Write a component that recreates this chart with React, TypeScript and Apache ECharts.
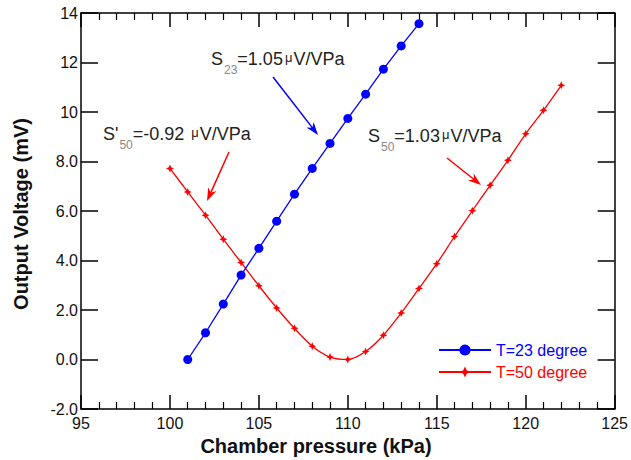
import React, { useEffect, useRef } from "react";
import * as echarts from "echarts";

const pressure23 = [101, 102, 103, 104, 105, 106, 107, 108, 109, 110, 111, 112, 113, 114];
const voltage23 = [0.0, 1.08, 2.24, 3.41, 4.49, 5.59, 6.68, 7.72, 8.73, 9.74, 10.72, 11.73, 12.67, 13.57];

const pressure50 = [100, 101, 102, 103, 104, 105, 106, 107, 108, 109, 110, 111, 112, 113, 114, 115, 116, 117, 118, 119, 120, 121, 122];
const voltage50 = [7.72, 6.77, 5.83, 4.86, 3.92, 2.98, 2.08, 1.26, 0.54, 0.1, 0.0, 0.32, 0.98, 1.88, 2.87, 3.87, 4.97, 6.01, 7.04, 8.05, 9.12, 10.07, 11.08];

const seriesNames = ["T=23 degree", "T=50 degree"];
const xTitle = "Chamber pressure (kPa)";
const yTitle = "Output Voltage (mV)";

const annotations = [
  { s: "S", sub: "23", rest: "=1.05", x: 211, y: 50 },
  { s: "S'", sub: "50", rest: "=-0.92 ", x: 103, y: 125 },
  { s: "S", sub: "50", rest: "=1.03", x: 368, y: 127 },
];

const arrows = [
  { x1: 273, y1: 77, x2: 318, y2: 135, color: "#0000ff" },
  { x1: 229, y1: 152, x2: 207, y2: 201, color: "#ff0000" },
  { x1: 447, y1: 158, x2: 481, y2: 185, color: "#ff0000" },
];

const STAR = "path://M0,-10 L3,-3 L10,0 L3,3 L0,10 L-3,3 L-10,0 L-3,-3 Z";

function arrowGraphics() {
  const out: any[] = [];
  for (const a of arrows) {
    const dx = a.x2 - a.x1;
    const dy = a.y2 - a.y1;
    const len = Math.sqrt(dx * dx + dy * dy);
    const ux = dx / len;
    const uy = dy / len;
    const hl = 13;
    const hw = 4.5;
    const bx = a.x2 - ux * hl;
    const by = a.y2 - uy * hl;
    out.push({
      type: "line",
      shape: { x1: a.x1, y1: a.y1, x2: a.x2 - ux * 4, y2: a.y2 - uy * 4 },
      style: { stroke: a.color, lineWidth: 1.5 },
      silent: true,
    });
    out.push({
      type: "polygon",
      shape: {
        points: [
          [a.x2, a.y2],
          [bx - uy * hw, by + ux * hw],
          [a.x2 - ux * hl * 0.7, a.y2 - uy * hl * 0.7],
          [bx + uy * hw, by - ux * hw],
        ],
      },
      style: { fill: a.color },
      silent: true,
    });
  }
  return out;
}

function annotationGraphics() {
  const ff = "Liberation Sans, Arial, sans-serif";
  return annotations.map((a) => ({
    type: "text",
    x: a.x,
    y: a.y,
    silent: true,
    style: {
      text: `{n|${a.s}}{sub|${a.sub}}{n|${a.rest}}{mu|\u03bc}{n|V/VPa}`,
      rich: {
        n: { fontSize: 18, lineHeight: 20, fill: "#222", fontFamily: ff, verticalAlign: "top" },
        sub: { fontSize: 12, lineHeight: 12, fill: "#888", fontFamily: ff, verticalAlign: "top", padding: [14, 0, 0, 1] },
        mu: { fontSize: 13, lineHeight: 13, fill: "#222", fontFamily: ff, verticalAlign: "top", padding: [1, 1, 0, 2] },
      },
    },
  }));
}

export default function App() {
  const ref = useRef<HTMLDivElement>(null);
  useEffect(() => {
    if (!ref.current) return;
    const chart = echarts.init(ref.current, undefined, { renderer: "svg" });
    const font = "Liberation Sans, Arial, sans-serif";
    const axisLine = { show: true, onZero: false, lineStyle: { color: "#000", width: 1.5 } };
    const option: any = {
      animation: false,
      backgroundColor: "#fff",
      grid: { left: 81, right: 13, top: 13, bottom: 51, containLabel: false },
      xAxis: [
        {
          type: "value",
          min: 95,
          max: 125,
          interval: 5,
          position: "bottom",
          axisLine,
          axisTick: { show: true, inside: true, length: 14, lineStyle: { color: "#000", width: 1.5 } },
          minorTick: { show: true, splitNumber: 5, length: 7, lineStyle: { color: "#000", width: 1.2 } },
          splitLine: { show: false },
          axisLabel: { show: true, color: "#111", fontSize: 16, fontFamily: font, margin: 6 },
        },
        {
          type: "value",
          min: 95,
          max: 125,
          interval: 5,
          position: "top",
          axisLine,
          axisTick: { show: true, inside: true, length: 14, lineStyle: { color: "#000", width: 1.5 } },
          minorTick: { show: true, splitNumber: 5, length: 7, lineStyle: { color: "#000", width: 1.2 } },
          splitLine: { show: false },
          axisLabel: { show: false },
        },
      ],
      yAxis: [
        {
          type: "value",
          min: -2,
          max: 14,
          interval: 2,
          position: "left",
          axisLine,
          axisTick: { show: true, inside: true, length: 17, lineStyle: { color: "#000", width: 1.5 } },
          splitLine: { show: false },
          axisLabel: {
            show: true,
            color: "#111",
            fontSize: 16,
            fontFamily: font,
            margin: 3,
            formatter: (v: number) => (Math.abs(v) >= 10 ? String(v) : v.toFixed(1)),
          },
        },
        {
          type: "value",
          min: -2,
          max: 14,
          interval: 2,
          position: "right",
          axisLine,
          axisTick: { show: true, inside: true, length: 17, lineStyle: { color: "#000", width: 1.5 } },
          splitLine: { show: false },
          axisLabel: { show: false },
        },
      ],
      legend: {
        show: true,
        orient: "vertical",
        left: 438,
        top: 342,
        padding: 0,
        itemWidth: 52,
        itemHeight: 14,
        itemGap: 6,
        textStyle: { fontSize: 16, fontFamily: font },
        data: [
          { name: seriesNames[0], textStyle: { color: "#0000ff" } },
          { name: seriesNames[1], textStyle: { color: "#ff0000" } },
        ],
      },
      series: [
        {
          name: seriesNames[0],
          type: "line",
          data: pressure23.map((x, i) => [x, voltage23[i]]),
          symbol: "circle",
          symbolSize: 9,
          color: "#0000ff",
          lineStyle: { color: "#0000ff", width: 1.3 },
          itemStyle: { color: "#0000ff" },
          z: 3,
        },
        {
          name: seriesNames[1],
          type: "line",
          data: pressure50.map((x, i) => [x, voltage50[i]]),
          symbol: STAR,
          symbolSize: 8,
          smooth: 0.3,
          color: "#ff0000",
          lineStyle: { color: "#ff0000", width: 1.3 },
          itemStyle: { color: "#ff0000" },
          z: 2,
        },
      ],
      graphic: [
        {
          type: "text",
          x: 21,
          y: 214,
          rotation: Math.PI / 2,
          silent: true,
          style: {
            text: yTitle,
            fontSize: 20,
            fontWeight: "bold",
            fontFamily: font,
            fill: "#111",
            align: "center",
            verticalAlign: "middle",
          },
        },
        {
          type: "text",
          x: 316,
          y: 446,
          silent: true,
          style: {
            text: xTitle,
            fontSize: 20,
            fontWeight: "bold",
            fontFamily: font,
            fill: "#111",
            align: "center",
            verticalAlign: "middle",
          },
        },
        ...annotationGraphics(),
        ...arrowGraphics(),
      ],
    };
    chart.setOption(option);
    return () => chart.dispose();
  }, []);
  return (
    <div
      ref={ref}
      style={{ position: "absolute", left: 0, top: 0, width: 631, height: 460, background: "#fff" }}
    />
  );
}
